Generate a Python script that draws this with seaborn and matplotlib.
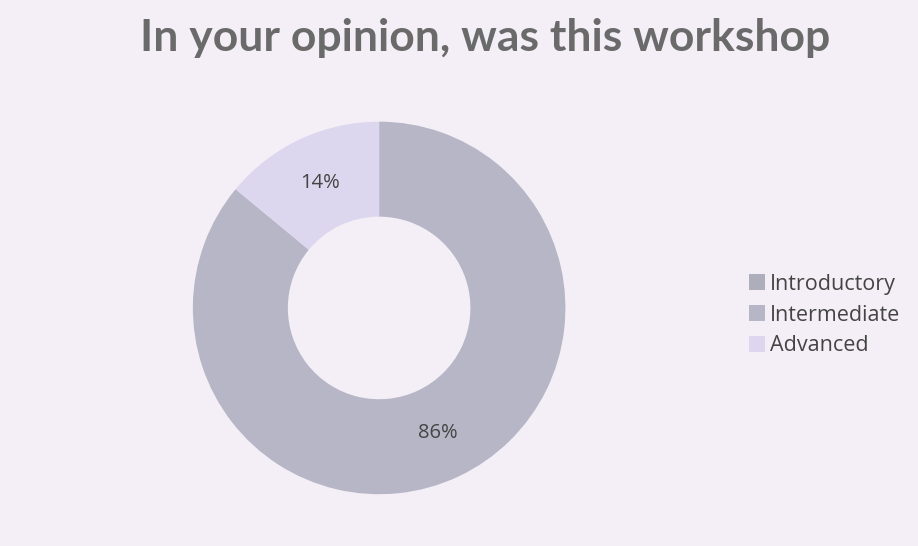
import numpy as np
import matplotlib
matplotlib.use("Agg")
import matplotlib.pyplot as plt
import seaborn as sns

# data
levels = ["Introductory", "Intermediate", "Advanced"]
shares = [0, 86, 14]
level_colors = ["#aeadbb", "#b7b6c6", "#dcd7ee"]

sns.set_theme(style="white")
plt.rcParams['font.family'] = ['Lato', 'DejaVu Sans']

bg = "#f4eff6"
fig = plt.figure(figsize=(9.18, 5.46), dpi=100)
fig.patch.set_facecolor(bg)

ax = fig.add_axes([0.206, 0.088, 0.414, 0.696])
ax.set_facecolor(bg)

def pct_label(p):
    return "" if p < 0.5 else "%d%%" % round(p)

wedges, texts, autotexts = ax.pie(
    shares, colors=level_colors, startangle=90, counterclock=False,
    autopct=pct_label, pctdistance=0.74,
    wedgeprops=dict(width=0.51, linewidth=0),
    textprops=dict(fontsize=14.5, color="#454545", family=["Open Sans", "DejaVu Sans"]))
ax.set_xlim(-1.02, 1.02)
ax.set_ylim(-1.02, 1.02)
ax.set_aspect("equal")
ax.axis("off")

fig.text(0.528, 0.93, "In your opinion, was this workshop", ha="center", va="center",
         fontsize=32, fontweight="bold", color="#6a6a6a")

leg = fig.legend(wedges, levels, loc="center left", bbox_to_anchor=(0.806, 0.423),
                 frameon=False, fontsize=15.5, handlelength=0.75, handleheight=0.75,
                 handletextpad=0.25, labelspacing=0.45, borderaxespad=0)
for t in leg.get_texts():
    t.set_color("#444444")
    t.set_family(["Open Sans", "DejaVu Sans"])

fig.savefig("out.png", dpi=100, facecolor=bg)
